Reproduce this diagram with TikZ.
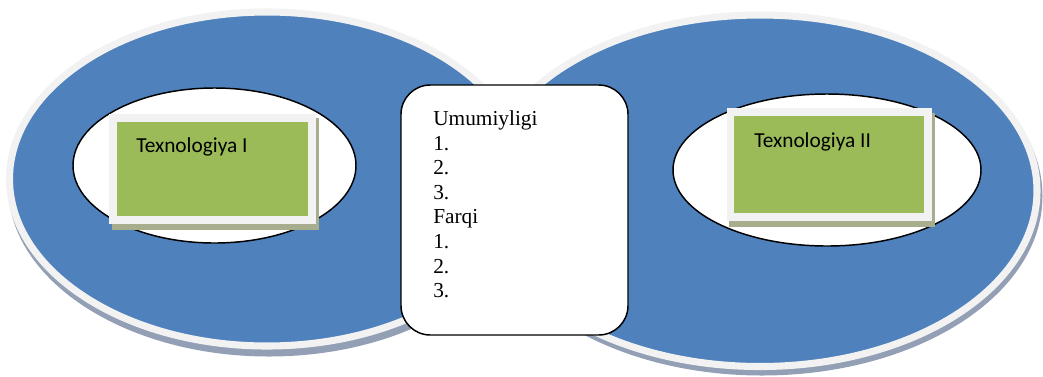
\documentclass[tikz,border=0pt]{standalone}
\usepackage{fontspec}
\setmainfont{Liberation Serif}
\newfontfamily\boxfont{Carlito}
\usetikzlibrary{positioning}
\definecolor{ovalblue}{HTML}{4F81BD}
\definecolor{ovalrim}{HTML}{F2F2F2}
\definecolor{ovalshade}{HTML}{929FB4}
\definecolor{techgreen}{HTML}{9BBB59}
\definecolor{techshade}{HTML}{A8AD8D}

\begin{document}
\begin{tikzpicture}[x=0.75pt,y=-0.75pt,
    bigoval/.style={fill=ovalblue,draw=ovalrim,line width=5.3pt},
    inoval/.style={fill=white,draw=black,line width=1.1pt},
    techbox/.style={rectangle,fill=techgreen,draw=ovalrim,line width=5.6pt,inner sep=0pt},
    techlabel/.style={anchor=base west,inner sep=0pt,font=\boxfont\fontsize{16}{19}\selectfont},
    listbox/.style={rectangle,rounded corners=22pt,fill=white,draw=black,line width=1.1pt,
        minimum width=170.25pt,minimum height=187.5pt}]
\useasboundingbox (0,0) rectangle (1043,376);
% the two big ovals
\fill[ovalshade](269,186) ellipse (261 and 170.5);
\draw[bigoval](267,179) ellipse (257.5 and 167);
\fill[ovalshade](762,196) ellipse (280.5 and 179.5);
\draw[bigoval](760,190.75) ellipse (277 and 175.75);
\draw[inoval](214.5,165.5) ellipse (141.5 and 77.5);
\draw[inoval](827,170) ellipse (154 and 76);
% green boxes
\fill[techshade](112,118) rectangle (319,230);
\node[techbox,minimum width=149.25pt,minimum height=76.5pt](tech1) at (212.5,169){};
\node[techlabel](tech1label) at (136,152){Texnologiya I};
\fill[techshade](729,113) rectangle (935,227);
\node[techbox,minimum width=148.1pt,minimum height=78.75pt](tech2) at (829.25,164.5){};
\node[techlabel](tech2label) at (754,147){Texnologiya II};
% middle list
\node[listbox](common) at (514.5,210){};
\node[anchor=north west,inner sep=0pt,align=left,font=\fontsize{16}{18.45}\selectfont](commontext) at (433,110.5)
    {Umumiyligi\\1.\\2.\\3.\\Farqi\\1.\\2.\\3.};
\end{tikzpicture}
\end{document}
